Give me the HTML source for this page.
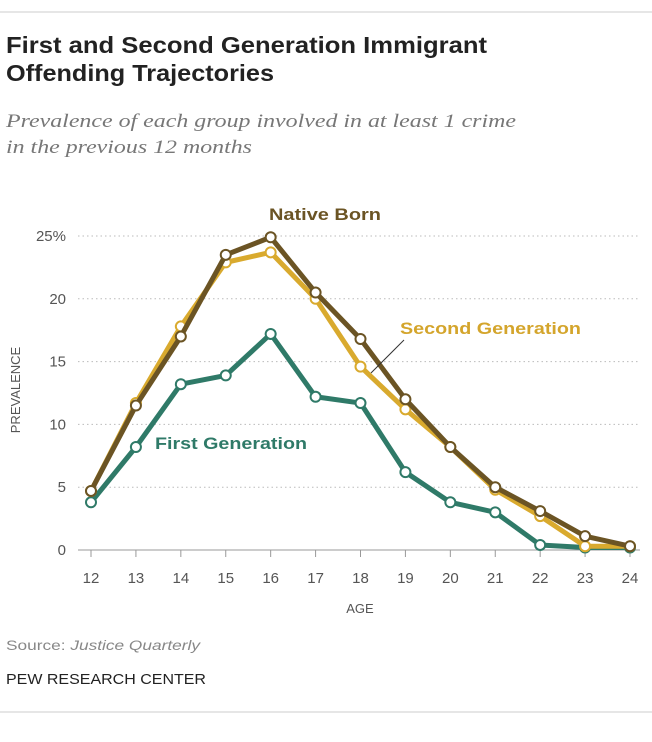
<!DOCTYPE html>
<html><head><meta charset="utf-8"><style>
body{margin:0;background:#fff;width:652px;height:737px;overflow:hidden;font-family:"Liberation Sans",sans-serif}
</style></head><body>
<svg width="652" height="737">
<line x1="0" y1="12" x2="652" y2="12" stroke="#ccc"/>
<text x="6" y="53" font-size="23" font-weight="bold" fill="#222" textLength="481" lengthAdjust="spacingAndGlyphs">First and Second Generation Immigrant</text>
<text x="6" y="81" font-size="23" font-weight="bold" fill="#222" textLength="268" lengthAdjust="spacingAndGlyphs">Offending Trajectories</text>
<text x="6" y="127" font-size="19" font-style="italic" fill="#777" font-family="Liberation Serif,serif" textLength="510" lengthAdjust="spacingAndGlyphs">Prevalence of each group involved in at least 1 crime</text>
<text x="6" y="153" font-size="19" font-style="italic" fill="#777" font-family="Liberation Serif,serif" textLength="246" lengthAdjust="spacingAndGlyphs">in the previous 12 months</text>
<g id="grid"></g><g id="axes"></g><g id="series"></g>
<text x="20" y="390" font-size="13" fill="#555" transform="rotate(-90 20 390)" text-anchor="middle">PREVALENCE</text>
<text x="360" y="613" font-size="13" fill="#555" text-anchor="middle">AGE</text>
<text x="269" y="220" font-size="17" font-weight="bold" fill="#6b5424" textLength="112" lengthAdjust="spacingAndGlyphs">Native Born</text>
<text x="400" y="334" font-size="17" font-weight="bold" fill="#d4a52c" textLength="181" lengthAdjust="spacingAndGlyphs">Second Generation</text>
<line x1="404" y1="340" x2="371" y2="373" stroke="#333" stroke-width="1"/>
<text x="155" y="449" font-size="17" font-weight="bold" fill="#2f7a68" textLength="152" lengthAdjust="spacingAndGlyphs">First Generation</text>
<text x="6" y="650" font-size="14" fill="#888" textLength="194" lengthAdjust="spacingAndGlyphs">Source: <tspan font-style="italic">Justice Quarterly</tspan></text>
<text x="6" y="684" font-size="15" fill="#222" textLength="200" lengthAdjust="spacingAndGlyphs">PEW RESEARCH CENTER</text>
<line x1="0" y1="712" x2="652" y2="712" stroke="#ccc"/>
</svg>
<script>
const ages=[12,13,14,15,16,17,18,19,20,21,22,23,24];
const yTicks=[0,5,10,15,20,25];
const yTickLabels=["0","5","10","15","20","25%"];
const nativeBorn=[4.7,11.5,17.0,23.5,24.9,20.5,16.8,12.0,8.2,5.0,3.1,1.1,0.3];
const secondGen=[4.7,11.7,17.8,22.9,23.7,20.0,14.6,11.2,8.2,4.8,2.7,0.3,0.3];
const firstGen=[3.8,8.2,13.2,13.9,17.2,12.2,11.7,6.2,3.8,3.0,0.4,0.2,0.2];
const NS='http://www.w3.org/2000/svg';
const xS=a=>91+(a-12)*(630-91)/12;
const yS=v=>550-v*(550-236)/25;
function mk(t,at,p){const e=document.createElementNS(NS,t);for(const k in at)e.setAttribute(k,at[k]);p.appendChild(e);return e;}
const grid=document.getElementById('grid'),axes=document.getElementById('axes'),ser=document.getElementById('series');
yTicks.forEach((v,i)=>{
 if(v>0){const l=mk('line',{x1:78,x2:640,y1:yS(v),y2:yS(v),stroke:'#bbb','stroke-dasharray':'1.5,3'},grid);
 
 }
 const t=mk('text',{x:66,y:yS(v)+5,'font-size':15,fill:'#555','text-anchor':'end'},axes);t.textContent=yTickLabels[i];
 
 
});
const base=mk('line',{x1:78,x2:640,y1:550,y2:550,stroke:'#999'},axes);


ages.forEach(a=>{
 const tk=mk('line',{x1:xS(a),x2:xS(a),y1:550,y2:557,stroke:'#999'},axes);
 
 
 const t=mk('text',{x:xS(a),y:583,'font-size':15,fill:'#555','text-anchor':'middle'},axes);t.textContent=a;
 
 
});
function draw(vals,color,name){
 const p=mk('polyline',{points:vals.map((v,i)=>xS(ages[i])+','+yS(v)).join(' '),fill:'none',stroke:color,'stroke-width':5,'stroke-linejoin':'round'},ser);
 
 
 vals.forEach((v,i)=>{const c=mk('circle',{cx:xS(ages[i]),cy:yS(v),r:5,fill:'#fff',stroke:color,'stroke-width':2},ser);
 
 });
}
draw(firstGen,'#2f7a68','first-generation');
draw(secondGen,'#d9aa2e','second-generation');
draw(nativeBorn,'#6b5424','native-born');
</script>
</body></html>
